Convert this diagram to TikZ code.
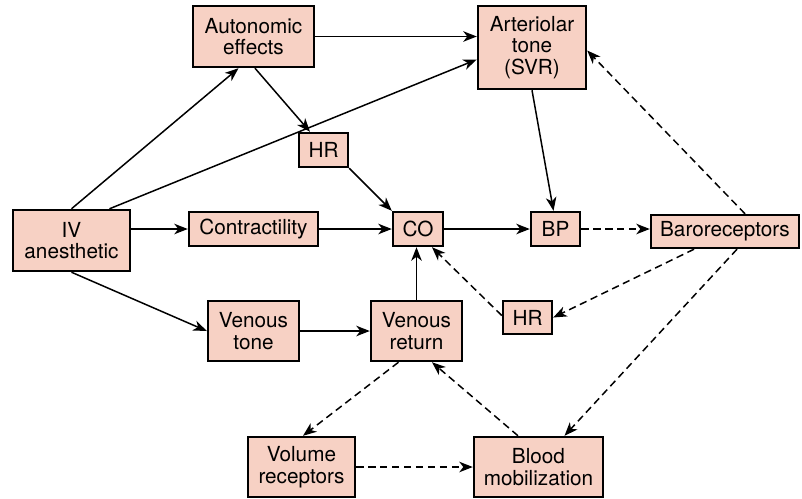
\documentclass[tikz,border=0pt]{standalone}
\usepackage{fontspec}
\setmainfont{TeX Gyre Heros}
\usepackage{xcolor}
\usepackage{tikz}
\usetikzlibrary{arrows.meta,calc}

\definecolor{boxfill}{RGB}{247,209,196}

\begin{document}
\begin{tikzpicture}[
  x=0.02cm, y=-0.02cm,
  box/.style={draw, line width=1.4pt, fill=boxfill, align=center, inner sep=1pt,
    font=\fontsize{11.8}{12.4}\selectfont},
  arr/.style={-{Stealth[length=2.7mm,width=2.1mm,inset=0.8mm]}, line width=0.85pt},
  darr/.style={arr, dash pattern=on 4.2pt off 2.6pt}
]
\useasboundingbox (0,0) rectangle (802,498);
% nodes (pixel grid of the figure)
\node[box, minimum width=2.34cm, minimum height=1.22cm] (iv) at (71.5,240.5) {IV\\anesthetic};
\node[box, minimum width=2.42cm, minimum height=1.22cm] (auto) at (253.5,36.5) {Autonomic\\effects};
\node[box, minimum width=2.16cm, minimum height=1.66cm] (art) at (532,47.5) {Arteriolar\\tone\\(SVR)};
\node[box, minimum width=0.98cm, minimum height=0.68cm] (hra) at (323.5,150) {HR};
\node[box, minimum width=2.58cm, minimum height=0.68cm] (contr) at (253.5,229) {Contractility};
\node[box, minimum width=1.0cm, minimum height=0.68cm] (co) at (418,229) {CO};
\node[box, minimum width=0.98cm, minimum height=0.68cm] (bp) at (555.5,229) {BP};
\node[box, minimum width=2.96cm, minimum height=0.66cm] (baro) at (725,231.5) {Baroreceptors};
\node[box, minimum width=1.82cm, minimum height=1.2cm] (vt) at (253.5,331) {Venous\\tone};
\node[box, minimum width=1.82cm, minimum height=1.2cm] (vr) at (416.5,331) {Venous\\return};
\node[box, minimum width=0.98cm, minimum height=0.66cm] (hrb) at (527.5,317.5) {HR};
\node[box, minimum width=2.14cm, minimum height=1.2cm] (vol) at (301.5,467) {Volume\\receptors};
\node[box, minimum width=2.58cm, minimum height=1.2cm] (blood) at (538.5,467) {Blood\\mobilization};
% solid connectors
\draw[arr] (auto.east) -- (auto.east -| art.west);
\draw[arr] (iv.north) -- ($(auto.south)+(-15,0)$);
\draw[arr] ($(iv.north)+(38,0)$) -- ($(art.west)+(0,12)$);
\draw[arr] ($(auto.south)+(1.5,0)$) -- ($(hra.north)+(-13.5,0)$);
\draw[arr] (hra.south east) -- (co.north west);
\draw[arr] (contr.west -| iv.east) -- (contr.west);
\draw[arr] (contr.east) -- (co.west);
\draw[arr] (iv.south) -- (vt.west);
\draw[arr] (vt.east) -- (vr.west);
\draw[arr] (vr.north) -- (vr.north |- co.south);
\draw[arr] (co.east) -- (bp.west);
\draw[arr] (art.south) -- ($(bp.north)+(-2,0)$);
% dashed connectors
\draw[darr] (bp.east) -- (bp.east -| baro.west);
\draw[darr] ($(baro.north)+(20,0)$) -- ($(art.east)+(0,3)$);
\draw[darr] ($(baro.south)+(-31,0)$) -- (hrb.east);
\draw[darr] ($(baro.south)+(12,0)$) -- ($(blood.north)+(26,0)$);
\draw[darr] ($(hrb.west)+(0,-2)$) -- ($(co.south)+(14,0)$);
\draw[darr] ($(vr.south)+(-18,0)$) -- ($(vol.north)+(1.5,0)$);
\draw[darr] (vol.east) -- (blood.west);
\draw[darr] ($(blood.north)+(-20.5,0)$) -- ($(vr.south)+(15.5,0)$);
\end{tikzpicture}
\end{document}
